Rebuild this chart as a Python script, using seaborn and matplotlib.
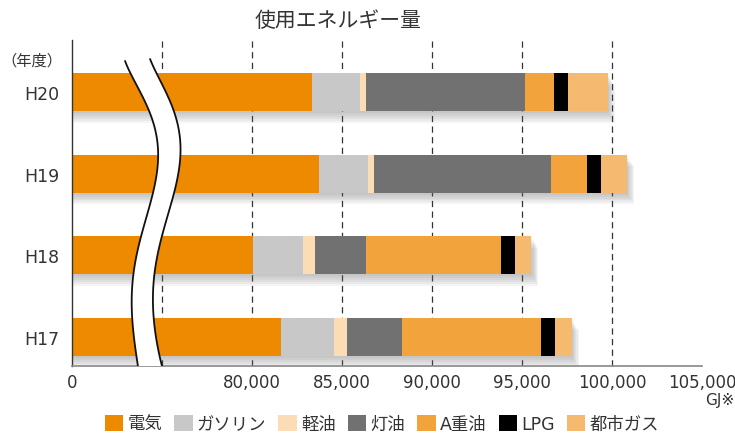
import numpy as np
import pandas as pd
import matplotlib
matplotlib.use('Agg')
import matplotlib.pyplot as plt
import matplotlib.patheffects as pe
from matplotlib.patches import Patch
import seaborn as sns

# --- data (GJ) ---
years = ['H20', 'H19', 'H18', 'H17']
categories = ['電気', 'ガソリン', '軽油', '灯油', 'A重油', 'LPG', '都市ガス']
denki = [83360, 83710, 80040, 81610]
gasoline = [2620, 2720, 2770, 2940]
keiyu = [330, 330, 680, 720]
touyu = [8860, 9860, 2830, 3050]
a_juyu = [1610, 2000, 7530, 7760]
lpg = [780, 780, 780, 780]
toshigas = [2220, 1440, 890, 920]
colors = ['#ee8a00', '#c8c8c8', '#fbdcb5', '#717171', '#f2a33c', '#000000', '#f5b96f']

# broken axis: left edge stands for 0, the scale is true from 70,000 up
tick_values = [70000, 80000, 85000, 90000, 95000, 100000, 105000]
tick_labels = ['0', '80,000', '85,000', '90,000', '95,000', '100,000', '105,000']
grid_values = [75000, 80000, 85000, 90000, 95000, 100000]

df = pd.DataFrame({'年度': years, '電気': denki, 'ガソリン': gasoline, '軽油': keiyu,
                   '灯油': touyu, 'A重油': a_juyu, 'LPG': lpg, '都市ガス': toshigas})
cum = df[categories].cumsum(axis=1)
cum['年度'] = df['年度']

sns.set_style('white')
plt.rcParams['font.family'] = ['DejaVu Sans', 'Noto Sans CJK JP']
text_color = '#333333'

fig = plt.figure(figsize=(7.35, 4.39), dpi=100)
ax = fig.add_axes([72 / 735, 72 / 439, 630 / 735, 326 / 439])

# stacked bars: draw the running totals from the longest down
for i in reversed(range(len(categories))):
    n_before = len(ax.patches)
    sns.barplot(data=cum, x=categories[i], y='年度', order=years, orient='h',
                color=colors[i], saturation=1, width=0.465, errorbar=None,
                linewidth=0, ax=ax, zorder=2)
    if i == len(categories) - 1:
        # soft drop shadow under the whole bar
        shadow = [pe.SimplePatchShadow(offset=(0.8 * o, -1.4 * o), shadow_rgbFace='#666666', alpha=0.07)
                  for o in (1, 2, 3, 4, 5, 6)]
        for p in ax.patches[n_before:]:
            p.set_path_effects(shadow + [pe.Normal()])

for g in grid_values:
    ax.axvline(g, color='#333333', lw=0.9, ls=(0, (5, 3.5)), zorder=0.5)

ax.set_xlim(70000, 105000)
ax.set_ylim(3.355, -0.637)
ax.set_xlabel('')
ax.set_ylabel('')
ax.set_xticks(tick_values, tick_labels)
ax.tick_params(axis='x', length=0, pad=5, labelsize=12, labelcolor=text_color)
ax.tick_params(axis='y', length=0, pad=9, labelsize=12.5, labelcolor=text_color)
for s in ['top', 'right']:
    ax.spines[s].set_visible(False)
ax.spines['left'].set_color('#333333')
ax.spines['left'].set_linewidth(1.0)
ax.spines['bottom'].set_color('#888888')
ax.spines['bottom'].set_linewidth(1.2)

# wavy break band (drawn in axes fraction, from reference pixel shape)
left_px = np.array([[125, 62], [143, 98], [155, 132], [158, 162], [155, 188], [147, 215],
                    [138, 248], [133, 282], [132, 315], [135, 348], [138, 367]])
right_px = np.array([[150, 60], [167, 95], [178, 128], [180, 158], [175, 195], [163, 228],
                     [157, 262], [153, 295], [155, 332], [162, 367]])


def smooth(pts):
    yy = np.linspace(pts[0, 1], pts[-1, 1], 120)
    xx = np.polyval(np.polyfit(pts[:, 1], pts[:, 0], 6), yy)
    return (xx - 72) / 630, (367 - yy) / 326


lx, ly = smooth(left_px)
rx, ry = smooth(right_px)
ax.fill(np.r_[lx, rx[::-1]], np.r_[ly, ry[::-1]], color='white', lw=0,
        transform=ax.transAxes, zorder=5)
ax.plot(lx, ly, color='#111111', lw=1.3, transform=ax.transAxes, zorder=6)
ax.plot(rx, ry, color='#111111', lw=1.3, transform=ax.transAxes, zorder=6)

fig.text(338 / 735, 1 - 21 / 439, '使用エネルギー量', ha='center', va='center',
         fontsize=15, color=text_color)
fig.text(1 / 735, 1 - 61 / 439, '（年度）', ha='left', va='center',
         fontsize=11, color=text_color)
fig.text(734 / 735, 1 - 401 / 439, 'GJ※', ha='right', va='center',
         fontsize=11, color=text_color)

handles = [Patch(facecolor=c, edgecolor='none') for c in colors]
fig.legend(handles, categories, loc='center', bbox_to_anchor=(382 / 735, 1 - 425 / 439),
           ncol=7, frameon=False, fontsize=12.5, handlelength=1.05, handleheight=1.05,
           handletextpad=0.25, columnspacing=0.7, borderaxespad=0, labelcolor=text_color)

fig.savefig('out.png', dpi=100)
